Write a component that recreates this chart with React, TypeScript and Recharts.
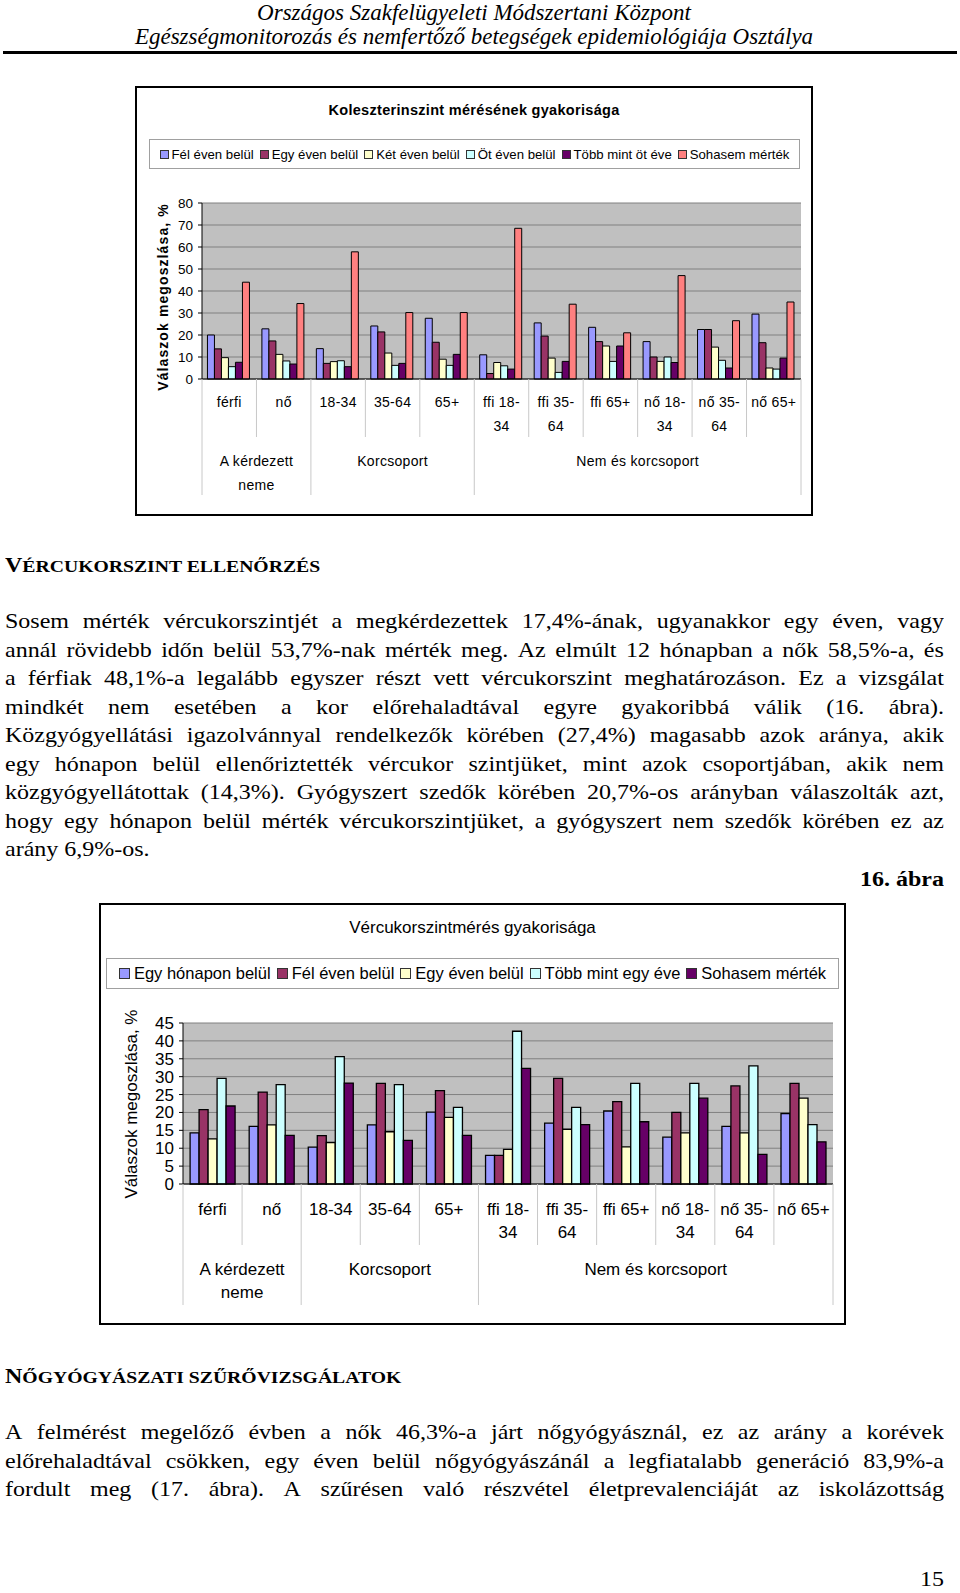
import React from 'react';
import { BarChart, Bar, XAxis, YAxis, CartesianGrid, Legend } from 'recharts';

// ---------- shared categories ----------
const categories = ['férfi', 'nő', '18-34', '35-64', '65+', 'ffi 18-34', 'ffi 35-64', 'ffi 65+', 'nő 18-34', 'nő 35-64', 'nő 65+'];
const tickLines: string[][] = [['férfi'], ['nő'], ['18-34'], ['35-64'], ['65+'], ['ffi 18-', '34'], ['ffi 35-', '64'], ['ffi 65+'], ['nő 18-', '34'], ['nő 35-', '64'], ['nő 65+']];
const groupLabels: string[][] = [['A kérdezett', 'neme'], ['Korcsoport'], ['Nem és korcsoport']];
const groupStarts = [0, 2, 5];
const groupCounts = [2, 3, 6];

// ---------- chart 1: koleszterin ----------
const cholTitle = 'Koleszterinszint mérésének gyakorisága';
const cholSeries = ['Fél éven belül', 'Egy éven belül', 'Két éven belül', 'Öt éven belül', 'Több mint öt éve', 'Sohasem mérték'];
const cholFelEven = [20, 22.8, 13.8, 24.1, 27.6, 11, 25.5, 23.5, 17, 22.5, 29.5];
const cholEgyEven = [13.7, 17.3, 7.1, 21.4, 16.7, 2.5, 19.5, 17, 10, 22.5, 16.5];
const cholKetEven = [9.7, 11.2, 7.9, 11.8, 9, 7.5, 9.5, 15, 8, 14.5, 5];
const cholOtEven = [5.6, 8.2, 8.3, 6.2, 6.2, 6, 3, 8, 10, 8.5, 4.5];
const cholTobbMint = [7.6, 6.8, 5.6, 7.1, 11.2, 4.5, 8, 15, 7.5, 5, 9.5];
const cholSohasem = [44, 34.3, 57.8, 30.2, 30.2, 68.5, 34, 21, 47, 26.5, 35];
const cholTicks = [0, 10, 20, 30, 40, 50, 60, 70, 80];

// ---------- chart 2: vércukor ----------
const sugarTitle = 'Vércukorszintmérés gyakorisága';
const sugarSeries = ['Egy hónapon belül', 'Fél éven belül', 'Egy éven belül', 'Több mint egy éve', 'Sohasem mérték'];
const sugarEgyHonap = [14.3, 16.1, 10.3, 16.5, 20.1, 8, 17, 20.4, 13.1, 16.1, 19.7];
const sugarFelEven = [20.8, 25.7, 13.5, 28.1, 26.1, 8, 29.5, 23, 20, 27.4, 28.1];
const sugarEgyEven = [12.6, 16.5, 11.6, 14.6, 18.6, 9.7, 15.3, 10.4, 14.3, 14.3, 24];
const sugarTobbMint = [29.5, 27.8, 35.6, 27.8, 21.4, 42.7, 21.4, 28.1, 28.1, 33, 16.6];
const sugarSohasem = [21.8, 13.6, 28.2, 12.2, 13.6, 32.3, 16.6, 17.4, 24, 8.3, 11.8];
const sugarTicks = [0, 5, 10, 15, 20, 25, 30, 35, 40, 45];

const yLabel = 'Válaszok megoszlása, %';
const colors = ['#9999FF', '#993366', '#FFFFCC', '#CCFFFF', '#660066', '#FF8080'];

// ---------- text ----------
const headerLines = ['Országos Szakfelügyeleti Módszertani Központ', 'Egészségmonitorozás és nemfertőző betegségek epidemiológiája Osztálya'];
const para1 = [
  'Sosem mérték vércukorszintjét a megkérdezettek 17,4%-ának, ugyanakkor egy éven, vagy',
  'annál rövidebb időn belül 53,7%-nak mérték meg. Az elmúlt 12 hónapban a nők 58,5%-a, és',
  'a férfiak 48,1%-a legalább egyszer részt vett vércukorszint meghatározáson. Ez a vizsgálat',
  'mindkét nem esetében a kor előrehaladtával egyre gyakoribbá válik (16. ábra).',
  'Közgyógyellátási igazolvánnyal rendelkezők körében (27,4%) magasabb azok aránya, akik',
  'egy hónapon belül ellenőriztették vércukor szintjüket, mint azok csoportjában, akik nem',
  'közgyógyellátottak (14,3%). Gyógyszert szedők körében 20,7%-os arányban válaszolták azt,',
  'hogy egy hónapon belül mérték vércukorszintjüket, a gyógyszert nem szedők körében ez az',
  'arány 6,9%-os.',
];
const para2 = [
  'A felmérést megelőző évben a nők 46,3%-a járt nőgyógyásznál, ez az arány a korévek',
  'előrehaladtával csökken, egy éven belül nőgyógyászánál a legfiatalabb generáció 83,9%-a',
  'fordult meg (17. ábra). A szűrésen való részvétel életprevalenciáját az iskolázottság',
];

const SANS = '"Liberation Sans", Arial, sans-serif';
const SERIF = '"Liberation Serif", "Times New Roman", serif';

const cholData = categories.map((c, i) => ({
  cat: c,
  s0: cholFelEven[i], s1: cholEgyEven[i], s2: cholKetEven[i], s3: cholOtEven[i], s4: cholTobbMint[i], s5: cholSohasem[i],
}));
const sugarData = categories.map((c, i) => ({
  cat: c,
  s0: sugarEgyHonap[i], s1: sugarFelEven[i], s2: sugarEgyEven[i], s3: sugarTobbMint[i], s4: sugarSohasem[i],
}));

type TickCfg = { bw: number; row1: number; rowGap: number; shortLen: number; grp1: number; longLen: number; fontSize: number; letterSpacing: number };

function makeTick(cfg: TickCfg) {
  return (props: any) => {
    const { x, y, index } = props;
    const bw = cfg.bw;
    const els: any[] = [];
    const isGroupStart = groupStarts.indexOf(index) >= 0;
    els.push(<line key="l" x1={x - bw / 2} x2={x - bw / 2} y1={y} y2={y + (isGroupStart ? cfg.longLen : cfg.shortLen)} stroke="#C8C8C8" strokeWidth={1} />);
    if (index === categories.length - 1) {
      els.push(<line key="r" x1={x + bw / 2} x2={x + bw / 2} y1={y} y2={y + cfg.longLen} stroke="#C8C8C8" strokeWidth={1} />);
    }
    (tickLines[index] || []).forEach((t, k) => {
      els.push(
        <text key={'t' + k} x={x} y={y + cfg.row1 + k * cfg.rowGap} textAnchor="middle" dominantBaseline="central"
          fontSize={cfg.fontSize} fontFamily={SANS} letterSpacing={cfg.letterSpacing} fill="#000">{t}</text>
      );
    });
    groupStarts.forEach((s, gi) => {
      const c = s + (groupCounts[gi] - 1) / 2;
      const ci = Math.floor(c);
      if (ci === index) {
        const gx = x + (c - ci) * bw;
        groupLabels[gi].forEach((t, k) => {
          els.push(
            <text key={'g' + k} x={gx} y={y + cfg.grp1 + k * cfg.rowGap} textAnchor="middle" dominantBaseline="central"
              fontSize={cfg.fontSize} fontFamily={SANS} letterSpacing={cfg.letterSpacing} fill="#000">{t}</text>
          );
        });
      }
    });
    return <g>{els}</g>;
  };
}

function makeLegend(order: string[], fontSize: number, marker: number, gap: number, itemGap: number, letterSpacing: number) {
  return (props: any) => {
    const payload: any[] = props.payload || [];
    const items = order.map((name) => payload.find((p: any) => p.value === name)).filter(Boolean);
    return (
      <div style={{ display: 'flex', alignItems: 'center', justifyContent: 'center', height: '100%', boxSizing: 'border-box', border: '1px solid #A0A0A0', fontFamily: SANS, fontSize, letterSpacing, whiteSpace: 'nowrap', background: '#fff' }}>
        {items.map((p: any, i: number) => (
          <span key={i} style={{ display: 'inline-flex', alignItems: 'center', marginRight: i === items.length - 1 ? 0 : itemGap }}>
            <span style={{ display: 'inline-block', width: marker, height: marker, background: p.color, border: '1px solid #333', marginRight: gap, boxSizing: 'border-box' }} />
            <span>{p.value}</span>
          </span>
        ))}
      </div>
    );
  };
}

function CholChart() {
  const W = 678, H = 430;
  const margin = { top: 117, right: 12, bottom: 17, left: 37 };
  const yW = 30, xH = 120;
  const bw = (W - margin.left - margin.right - yW) / categories.length;
  return (
    <div style={{ position: 'absolute', left: 135, top: 86, width: W, height: H }}>
      <BarChart width={W} height={H} data={cholData} margin={margin} barCategoryGap="10%" barGap={0}>
        <CartesianGrid vertical={false} fill="#C0C0C0" stroke="#808080" />
        <XAxis dataKey="cat" interval={0} height={xH} tickSize={0} tickMargin={0} tickLine={false}
          axisLine={{ stroke: '#000' }}
          tick={makeTick({ bw, row1: 23, rowGap: 23.5, shortLen: 58, grp1: 82, longLen: 116, fontSize: 14, letterSpacing: 0.3 })} />
        <YAxis width={yW} domain={[0, 80]} ticks={cholTicks} interval={0} tickSize={4} tickMargin={5}
          axisLine={{ stroke: '#000' }} tickLine={{ stroke: '#000' }}
          tick={{ fontSize: 13.5, fontFamily: SANS, fill: '#000' }} />
        <YAxis yAxisId="edge" orientation="right" width={0} tick={false} tickLine={false} axisLine={{ stroke: '#808080' }} />
        <Legend layout="horizontal" verticalAlign="middle" align="center"
          wrapperStyle={{ top: 53, left: 14, width: 651, height: 30 }}
          content={makeLegend(cholSeries, 13.2, 9, 3, 6, 0)} />
        {cholSeries.map((s, i) => (
          <Bar key={s} dataKey={'s' + i} name={s} fill={colors[i]} stroke="#000" strokeWidth={1} isAnimationActive={false} />
        ))}
      </BarChart>
      <div style={{ position: 'absolute', left: 0, top: 24, width: W, textAlign: 'center', transform: 'translateY(-50%)', fontFamily: SANS, fontWeight: 'bold', fontSize: 14.5, letterSpacing: 0.3 }}>{cholTitle}</div>
      <div style={{ position: 'absolute', left: 28, top: 211, transform: 'translate(-50%,-50%) rotate(-90deg)', whiteSpace: 'nowrap', fontFamily: SANS, fontWeight: 'bold', fontSize: 14, letterSpacing: 1.1 }}>{yLabel}</div>
      <div style={{ position: 'absolute', left: 0, top: 0, width: W, height: H, border: '2px solid #000', boxSizing: 'border-box', pointerEvents: 'none' }} />
    </div>
  );
}

function SugarChart() {
  const W = 747, H = 422;
  const margin = { top: 120, right: 13, bottom: 16, left: 44 };
  const yW = 40, xH = 125;
  const bw = (W - margin.left - margin.right - yW) / categories.length;
  return (
    <div style={{ position: 'absolute', left: 99, top: 903, width: W, height: H }}>
      <BarChart width={W} height={H} data={sugarData} margin={margin} barCategoryGap="12%" barGap={0}>
        <CartesianGrid vertical={false} fill="#C0C0C0" stroke="#808080" />
        <XAxis dataKey="cat" interval={0} height={xH} tickSize={0} tickMargin={0} tickLine={false}
          axisLine={{ stroke: '#000' }}
          tick={makeTick({ bw, row1: 25, rowGap: 23, shortLen: 61, grp1: 85, longLen: 121, fontSize: 17, letterSpacing: 0 })} />
        <YAxis width={yW} domain={[0, 45]} ticks={sugarTicks} interval={0} tickSize={4} tickMargin={5}
          axisLine={{ stroke: '#000' }} tickLine={{ stroke: '#000' }}
          tick={{ fontSize: 17, fontFamily: SANS, fill: '#000' }} />
        <YAxis yAxisId="edge" orientation="right" width={0} tick={false} tickLine={false} axisLine={{ stroke: '#808080' }} />
        <Legend layout="horizontal" verticalAlign="middle" align="center"
          wrapperStyle={{ top: 55, left: 7, width: 733, height: 31 }}
          content={makeLegend(sugarSeries, 16.5, 11, 4, 6, 0)} />
        {sugarSeries.map((s, i) => (
          <Bar key={s} dataKey={'s' + i} name={s} fill={colors[i]} stroke="#000" strokeWidth={1.3} isAnimationActive={false} />
        ))}
      </BarChart>
      <div style={{ position: 'absolute', left: 0, top: 25, width: W, textAlign: 'center', transform: 'translateY(-50%)', fontFamily: SANS, fontSize: 17 }}>{sugarTitle}</div>
      <div style={{ position: 'absolute', left: 33, top: 201, transform: 'translate(-50%,-50%) rotate(-90deg)', whiteSpace: 'nowrap', fontFamily: SANS, fontSize: 17 }}>{yLabel}</div>
      <div style={{ position: 'absolute', left: 0, top: 0, width: W, height: H, border: '2px solid #000', boxSizing: 'border-box', pointerEvents: 'none' }} />
    </div>
  );
}

function TextLine({ text, center, justify }: { text: string; center: number; justify: boolean }) {
  const base: any = {
    position: 'absolute', left: 5, top: center - 16.4, width: 939, height: 28, lineHeight: '28px',
    fontFamily: SERIF, fontSize: 24, whiteSpace: 'nowrap', transform: 'scaleY(0.9)', color: '#000',
  };
  if (justify) {
    return (
      <div style={{ ...base, display: 'flex', justifyContent: 'space-between' }}>
        {text.split(' ').map((w, i) => <span key={i}>{w}</span>)}
      </div>
    );
  }
  return <div style={base}>{text}</div>;
}

function SmallCapsHeading({ first, rest, center }: { first: string; rest: string; center: number }) {
  return (
    <div style={{ position: 'absolute', left: 5, top: center - 16.4, height: 28, lineHeight: '28px', fontFamily: SERIF, fontWeight: 'bold', whiteSpace: 'nowrap', transform: 'scaleY(0.9)' }}>
      <span style={{ fontSize: 24 }}>{first}</span><span style={{ fontSize: 19.7 }}>{rest}</span>
    </div>
  );
}

export default function App() {
  const p1Centers = [623.8, 652.2, 680.7, 709.1, 737.5, 766, 794.4, 822.9, 851.3];
  const p2Centers = [1434.4, 1462.9, 1491.3];
  return (
    <div style={{ position: 'absolute', left: 0, top: 0, width: 960, height: 1593, background: '#fff', overflow: 'hidden' }}>
      {headerLines.map((t, i) => (
        <div key={i} style={{ position: 'absolute', left: 0, width: 948, top: i === 0 ? 0 : 24, height: 26, lineHeight: '26px', textAlign: 'center', fontFamily: SERIF, fontStyle: 'italic', fontSize: 23, whiteSpace: 'nowrap' }}>{t}</div>
      ))}
      <div style={{ position: 'absolute', left: 3, top: 51, width: 954, height: 2.5, background: '#000' }} />

      <CholChart />

      <SmallCapsHeading first="V" rest="ÉRCUKORSZINT ELLENŐRZÉS" center={566.9} />
      {para1.map((t, i) => (
        <TextLine key={i} text={t} center={p1Centers[i]} justify={i !== para1.length - 1} />
      ))}
      <div style={{ position: 'absolute', right: 16, top: 881.8 - 16.4, height: 28, lineHeight: '28px', fontFamily: SERIF, fontWeight: 'bold', fontSize: 24, transform: 'scaleY(0.9)' }}>16. ábra</div>

      <SugarChart />

      <SmallCapsHeading first="N" rest="ŐGYÓGYÁSZATI SZŰRŐVIZSGÁLATOK" center={1378.6} />
      {para2.map((t, i) => (
        <TextLine key={i} text={t} center={p2Centers[i]} justify={true} />
      ))}
      <div style={{ position: 'absolute', right: 16, top: 1581.8 - 16.4, height: 28, lineHeight: '28px', fontFamily: SERIF, fontSize: 24, transform: 'scaleY(0.9)' }}>15</div>
    </div>
  );
}
